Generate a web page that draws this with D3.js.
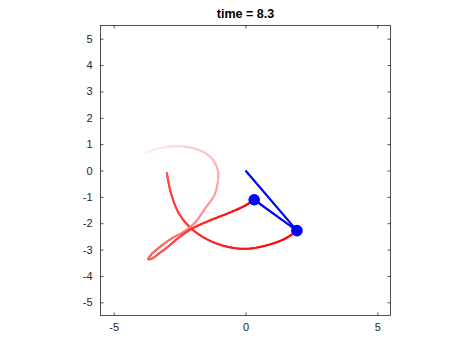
<!DOCTYPE html>
<html>
<head>
<meta charset="utf-8">
<script src="https://cdn.jsdelivr.net/npm/d3@7"></script>
<style>
  body { margin: 0; background: #fff; }
  text { font-family: "Liberation Sans", Arial, Helvetica, sans-serif; }
</style>
</head>
<body>
<div id="chart"></div>
<script>
'use strict';

// double pendulum snapshot, trails fade towards the past

var titleText = 'time = 8.3';
var xTicks = [-5, 0, 5];
var yTicks = [-5, -4, -3, -2, -1, 0, 1, 2, 3, 4, 5];

// pendulum: pivot -> mass 1 -> mass 2
var pivot = [0, 0];
var mass1 = [1.95, -2.28];
var mass2 = [0.33, -1.11];

// trail of mass 1 (oldest first)
var trail1X = [-2.98, -2.85, -2.54, -2.09, -1.46, -0.70, 0.05, 0.94, 1.57, 1.95];
var trail1Y = [-0.09, -0.78, -1.60, -2.17, -2.61, -2.89, -2.97, -2.80, -2.55, -2.28];

// trail of mass 2 (oldest first)
var trail2X = [-3.80, -3.31, -2.85, -2.36, -1.83, -1.45, -1.19, -1.04, -1.06, -1.19, -1.53, -1.91,
  -2.32, -2.85, -3.31, -3.57, -3.69, -3.53, -3.23, -2.93, -2.47, -2.02, -1.34, -0.58, -0.01, 0.33];
var trail2Y = [0.68, 0.83, 0.91, 0.91, 0.80, 0.61, 0.34, -0.04, -0.49, -0.95, -1.44, -1.97,
  -2.31, -2.61, -2.95, -3.18, -3.37, -3.33, -3.11, -2.88, -2.50, -2.20, -1.89, -1.59, -1.33, -1.11];

var width = 474;
var height = 355;
var axisColor = '#262626';

var svg = d3.select('#chart')
  .append('svg')
  .attr('width', width)
  .attr('height', height);

var x = d3.scaleLinear().domain([-5.5, 5.5]).range([100.5, 390.5]);
var y = d3.scaleLinear().domain([-5.5, 5.5]).range([315.5, 25.5]);

function styleAxis(g) {
  g.select('.domain').remove();
  g.selectAll('.tick line').attr('stroke', axisColor).attr('stroke-width', 0.8);
  g.selectAll('.tick text')
    .attr('fill', axisColor)
    .style('font-size', '11px');
}

var fmt = function(d) { return String(d); };

svg.append('g')
  .attr('transform', 'translate(0,' + y(-5.5) + ')')
  .call(d3.axisBottom(x).tickValues(xTicks).tickSizeInner(-3).tickSizeOuter(0).tickPadding(8).tickFormat(fmt))
  .call(styleAxis);
svg.append('g')
  .attr('transform', 'translate(0,' + y(5.5) + ')')
  .call(d3.axisTop(x).tickValues(xTicks).tickSizeInner(-3).tickSizeOuter(0).tickFormat(''))
  .call(styleAxis);
svg.append('g')
  .attr('transform', 'translate(' + x(-5.5) + ',0)')
  .call(d3.axisLeft(y).tickValues(yTicks).tickSizeInner(-3).tickSizeOuter(0).tickPadding(8).tickFormat(fmt))
  .call(styleAxis);
svg.append('g')
  .attr('transform', 'translate(' + x(5.5) + ',0)')
  .call(d3.axisRight(y).tickValues(yTicks).tickSizeInner(-3).tickSizeOuter(0).tickFormat(''))
  .call(styleAxis);

svg.append('rect')
  .attr('x', x(-5.5))
  .attr('y', y(5.5))
  .attr('width', x(5.5) - x(-5.5))
  .attr('height', y(-5.5) - y(5.5))
  .attr('fill', 'none')
  .attr('stroke', axisColor)
  .attr('stroke-width', 0.8);

svg.append('text')
  .attr('x', (x(-5.5) + x(5.5)) / 2)
  .attr('y', 18)
  .attr('text-anchor', 'middle')
  .attr('fill', '#000')
  .style('font-size', '12.5px')
  .style('font-weight', 'bold')
  .text(titleText);

var line = d3.line()
  .x(function(d) { return x(d[0]); })
  .y(function(d) { return y(d[1]); })
  .curve(d3.curveCatmullRom.alpha(0.5));

var mix = d3.interpolateRgb('#ffffff', '#ff0000');

// draw a trail as short pieces whose colour fades from a0 (oldest) to a1
function drawTrail(xs, ys, a0, a1) {
  var pts = xs.map(function(v, i) { return [v, ys[i]]; });
  var guide = svg.append('path').attr('d', line(pts)).attr('fill', 'none').attr('stroke', 'none');
  var node = guide.node();
  var total = node.getTotalLength();
  var step = 1.2;
  var n = Math.ceil(total / step);
  var g = svg.append('g');
  for (var i = 0; i < n; i++) {
    var p0 = node.getPointAtLength(i * step);
    var p1 = node.getPointAtLength(Math.min(total, (i + 1) * step));
    var t = i / (n - 1);
    g.append('line')
      .attr('x1', p0.x).attr('y1', p0.y)
      .attr('x2', p1.x).attr('y2', p1.y)
      .attr('stroke', mix(a0 + (a1 - a0) * t))
      .attr('stroke-width', 2)
      .attr('stroke-linecap', 'round');
  }
  guide.remove();
}

drawTrail(trail1X, trail1Y, 0.7, 1);
drawTrail(trail2X, trail2Y, 0.06, 1);

var arm = [pivot, mass1, mass2];
svg.append('path')
  .attr('d', d3.line().x(function(d) { return x(d[0]); }).y(function(d) { return y(d[1]); })(arm))
  .attr('fill', 'none')
  .attr('stroke', '#0000ff')
  .attr('stroke-width', 2.2);

svg.selectAll('circle.bob')
  .data([mass1, mass2])
  .enter()
  .append('circle')
  .attr('class', 'bob')
  .attr('cx', function(d) { return x(d[0]); })
  .attr('cy', function(d) { return y(d[1]); })
  .attr('r', 5.8)
  .attr('fill', '#0000ff');
</script>
</body>
</html>
